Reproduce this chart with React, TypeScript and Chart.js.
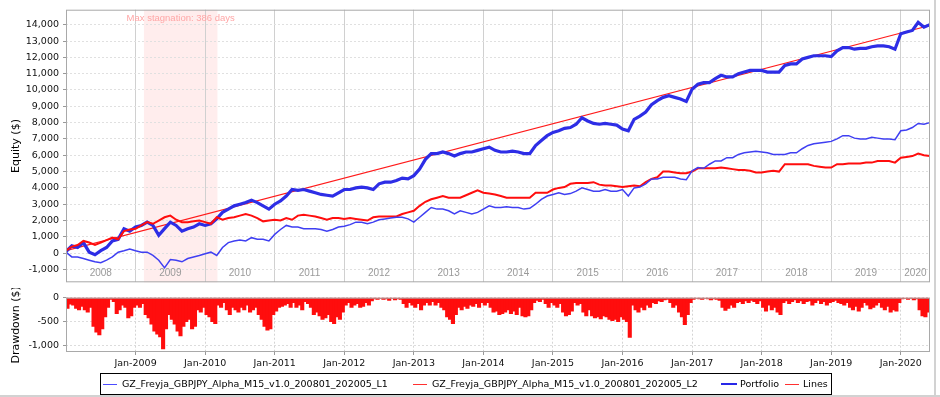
import React, { useEffect, useRef } from 'react';
import { Chart, registerables } from 'chart.js';

Chart.register(...registerables);

// ---------- data ----------
const FIRST_YEAR = 2008;
const LAST_X = 2020.42;
const yearTicks = [2009, 2010, 2011, 2012, 2013, 2014, 2015, 2016, 2017, 2018, 2019, 2020];
const yearLabels = [2008, 2009, 2010, 2011, 2012, 2013, 2014, 2015, 2016, 2017, 2018, 2019, 2020];
const equityTicks = [-1000, 0, 1000, 2000, 3000, 4000, 5000, 6000, 7000, 8000, 9000, 10000, 11000, 12000, 13000, 14000];
const drawdownTicks = [0, -500, -1000];
const equityRange = [-1786, 14921];
const drawdownRange = [-1143, 0];

const seriesNames = [
  'GZ_Freyja_GBPJPY_Alpha_M15_v1.0_200801_202005_L1',
  'GZ_Freyja_GBPJPY_Alpha_M15_v1.0_200801_202005_L2',
  'Portfolio',
  'Lines',
];

// monthly values, Jan 2008 ... May 2020, plus end of May 2020
const portfolio = [
  100, 450, 350, 650, 60, -100, 150, 350, 750, 850, 1500, 1350,
  1600, 1700, 1900, 1700, 1100, 1500, 1900, 1700, 1350, 1500, 1600, 1800,
  1700, 1800, 2100, 2500, 2700, 2900, 3000, 3100, 3250, 3100, 2900, 2700,
  3000, 3200, 3500, 3900, 3850, 3900, 3800, 3700, 3600, 3550, 3500, 3700,
  3900, 3900, 4000, 4050, 4000, 3900, 4250, 4350, 4350, 4450, 4600, 4550,
  4750, 5150, 5750, 6100, 6100, 6200, 6100, 5950, 6100, 6200, 6200, 6300,
  6400, 6500, 6300, 6200, 6200, 6250, 6200, 6100, 6100, 6600, 6900, 7200,
  7400, 7500, 7650, 7700, 7900, 8300, 8100, 7950, 7900, 7950, 7900, 7850,
  7600, 7500, 8200, 8400, 8650, 9100, 9350, 9550, 9650, 9550, 9450, 9300,
  10050, 10350, 10450, 10450, 10700, 10900, 10800, 10800, 11000, 11100, 11200, 11200,
  11200, 11100, 11100, 11100, 11500, 11600, 11600, 11900, 12000, 12100, 12100, 12100,
  12050, 12400, 12600, 12600, 12500, 12550, 12550, 12650, 12700, 12700, 12650, 12500,
  13450, 13550, 13650, 14150, 13850, 14000,
];
const strategyL1 = [
  60, -230, -230, -330, -430, -530, -590, -430, -230, 60, 150, 250,
  150, 60, 60, -140, -430, -900, -390, -430, -530, -330, -230, -140,
  -40, 60, -140, 350, 650, 750, 800, 750, 950, 850, 850, 750,
  1150, 1450, 1700, 1600, 1600, 1500, 1500, 1500, 1450, 1350, 1450, 1600,
  1650, 1750, 1900, 1900, 1800, 1900, 2050, 2100, 2150, 2200, 2200, 2100,
  1900, 2200, 2500, 2800, 2700, 2700, 2600, 2400, 2600, 2500, 2400, 2500,
  2700, 2900, 2800, 2800, 2850, 2800, 2800, 2700, 2750, 3000, 3300, 3500,
  3600, 3700, 3600, 3650, 3800, 4000, 3900, 3800, 3800, 3900, 3800, 3800,
  3900, 3500, 4000, 4050, 4250, 4550, 4550, 4650, 4650, 4650, 4550, 4500,
  5050, 5250, 5200, 5450, 5650, 5650, 5850, 5850, 6050, 6150, 6200, 6250,
  6200, 6150, 6050, 6050, 6050, 6150, 6150, 6400, 6600, 6700, 6750, 6800,
  6850, 7000, 7200, 7200, 7050, 7000, 7000, 7100, 7050, 7000, 7000, 6950,
  7500, 7550, 7700, 7950, 7900, 8000,
];
const strategyL2 = [
  150, 400, 500, 750, 650, 500, 650, 800, 950, 850, 1350, 1450,
  1500, 1700, 1900, 1800, 2000, 2200, 2300, 2050, 1900, 1900, 1950, 2000,
  1900, 1800, 2200, 2050, 2150, 2200, 2300, 2400, 2300, 2150, 1950, 2000,
  2050, 2000, 2150, 2050, 2300, 2350, 2300, 2250, 2150, 2050, 2150, 2150,
  2100, 2150, 2100, 2050, 2000, 2200, 2250, 2250, 2250, 2250, 2400, 2500,
  2600, 2900, 3150, 3300, 3400, 3500, 3400, 3400, 3400, 3550, 3700, 3850,
  3700, 3650, 3600, 3500, 3400, 3400, 3400, 3400, 3400, 3700, 3700, 3700,
  3900, 4000, 4050, 4250, 4300, 4300, 4300, 4350, 4200, 4150, 4150, 4100,
  4050, 4100, 4150, 4100, 4350, 4550, 4650, 5000, 5000, 4950, 4900, 4900,
  5000, 5200, 5200, 5200, 5200, 5250, 5200, 5150, 5100, 5100, 5050, 4950,
  4950, 5000, 5050, 5000, 5450, 5450, 5450, 5450, 5450, 5350, 5300, 5250,
  5250, 5450, 5450, 5500, 5500, 5500, 5550, 5550, 5650, 5650, 5650, 5550,
  5850, 5900, 5950, 6100, 6000, 5950,
];
const trendLine = [
  { x: 2008.0, y: 150 },
  { x: 2020.4167, y: 13950 },
];

// semi-monthly drawdown of the portfolio, Jan 2008 ... May 2020
const drawdown = [
  -220, -130, -150, -220, -250, -180, -250, -300, -200, -600, -720, -780, -650, -400, -200, -30, -80, -330, -250, -150, -200, -420, -380, -200,
  -150, -200, -120, -350, -420, -550, -700, -760, -820, -1070, -650, -350, -450, -550, -700, -800, -600, -500, -450, -650, -600, -250, -300, -200,
  -350, -400, -500, -540, -150, -200, -100, -250, -350, -200, -250, -300, -200, -250, -150, -300, -250, -200, -350, -450, -600, -680, -650, -350,
  -280, -200, -180, -150, -120, -200, -100, -200, -150, -250, -80, -120, -200, -350, -300, -380, -450, -420, -350, -500, -540, -400, -450, -300,
  -150, -100, -200, -150, -120, -200, -180, -100, -150, -60, -20, -30, -10, -30, -20, -50, -10, -40, -20, -30, -120, -200, -100, -150,
  -200, -120, -250, -150, -100, -150, -80, -150, -100, -200, -250, -400, -450, -540, -350, -200, -250, -180, -220, -150, -180, -120, -200, -100,
  -150, -100, -200, -300, -280, -350, -330, -300, -250, -330, -280, -350, -200, -380, -400, -380, -250, -100, -50, -80, -30, -120, -200, -100,
  -150, -200, -120, -300, -380, -350, -280, -100, -150, -120, -300, -380, -250, -380, -420, -400, -440, -380, -400, -450, -480, -450, -500, -400,
  -450, -500, -830, -150, -250, -300, -200, -250, -150, -200, -100, -120, -60, -80, -40, -30, -100, -200, -150, -300, -400, -560, -350, -100,
  -30, -10, -20, -30, -10, -20, -40, -20, -30, -50, -200, -260, -220, -150, -200, -100, -80, -120, -60, -100, -50, -80, -120, -60,
  -200, -280, -150, -250, -200, -300, -350, -100, -60, -120, -80, -40, -100, -60, -120, -80, -60, -150, -100, -50, -120, -80, -150, -100,
  -80, -50, -100, -120, -150, -100, -200, -250, -180, -280, -200, -100, -150, -230, -200, -150, -100, -200, -250, -180, -300, -250, -280, -100,
  -20, -10, -30, -10, -40, -20, -250, -380, -400, -300,
];

const stagnation = { start: 2009.12, end: 2010.177, label: 'Max stagnation: 386 days' };

// ---------- helpers ----------
const monthPoints = (arr: number[]) => arr.map((y, i) => ({ x: FIRST_YEAR + i / 12, y }));
const halfMonthPoints = (arr: number[]) => arr.map((y, i) => ({ x: FIRST_YEAR + (i + 0.5) / 24, y }));
const fmt = (v: number) => Number(v).toLocaleString('en-US');
const AXIS_FONT = '"DejaVu Sans", sans-serif';

const plotBorder = {
  id: 'plotBorder',
  afterDraw(chart: any) {
    const { ctx, chartArea: a } = chart;
    ctx.save();
    ctx.strokeStyle = '#a9a9a9';
    ctx.lineWidth = 1;
    ctx.strokeRect(a.left + 0.5, a.top + 0.5, a.right - a.left - 1, a.bottom - a.top - 1);
    ctx.restore();
  },
};

const equityDecor = {
  id: 'equityDecor',
  beforeDraw(chart: any) {
    const { ctx, chartArea: a, scales } = chart;
    const x = scales.x;
    const x0 = x.getPixelForValue(stagnation.start);
    const x1 = x.getPixelForValue(stagnation.end);
    ctx.save();
    ctx.fillStyle = '#ffeded';
    ctx.fillRect(x0, a.top, x1 - x0, a.bottom - a.top);
    ctx.restore();
  },
  afterDraw(chart: any) {
    const { ctx, chartArea: a, scales } = chart;
    const x = scales.x;
    const x0 = x.getPixelForValue(stagnation.start);
    const x1 = x.getPixelForValue(stagnation.end);
    ctx.save();
    ctx.textAlign = 'center';
    ctx.textBaseline = 'middle';
    ctx.font = '9.5px "Liberation Sans", Arial, sans-serif';
    ctx.fillStyle = '#ffa6a6';
    ctx.fillText(stagnation.label, (x0 + x1) / 2, a.top + 9);
    ctx.fillStyle = '#9a9a9a';
    ctx.font = '10px "Liberation Sans", Arial, sans-serif';
    yearLabels.forEach((yr) => {
      const l = x.getPixelForValue(Math.max(yr, x.min));
      const r = x.getPixelForValue(Math.min(yr + 1, x.max));
      ctx.fillText(String(yr), (l + r) / 2, a.bottom - 9);
    });
    ctx.restore();
  },
};

const legendItems = [
  { label: seriesNames[0], color: '#4c4cff', h: 1, lineX: 103, lineW: 14, textX: 122 },
  { label: seriesNames[1], color: '#ff3030', h: 1, lineX: 413, lineW: 14, textX: 432 },
  { label: seriesNames[2], color: '#2828e8', h: 2, lineX: 721, lineW: 16, textX: 740 },
  { label: seriesNames[3], color: '#ff3030', h: 1, lineX: 785, lineW: 14, textX: 803 },
];

export default function App() {
  const topRef = useRef<HTMLCanvasElement | null>(null);
  const botRef = useRef<HTMLCanvasElement | null>(null);

  useEffect(() => {
    Chart.defaults.font.family = AXIS_FONT;
    Chart.defaults.font.size = 9.5;
    Chart.defaults.color = '#111';

    const top = new Chart(topRef.current as HTMLCanvasElement, {
      type: 'line',
      data: {
        datasets: [
          { label: seriesNames[0], data: monthPoints(strategyL1), borderColor: '#3f3ff2', borderWidth: 1.5, pointRadius: 0, tension: 0 },
          { label: seriesNames[1], data: monthPoints(strategyL2), borderColor: '#ff0d0d', borderWidth: 2, pointRadius: 0, tension: 0 },
          { label: seriesNames[2], data: monthPoints(portfolio), borderColor: '#2d2de6', borderWidth: 3.2, pointRadius: 0, tension: 0 },
          { label: seriesNames[3], data: trendLine, borderColor: '#ff1a1a', borderWidth: 1.2, pointRadius: 0, tension: 0 },
        ],
      },
      options: {
        animation: false,
        responsive: false,
        maintainAspectRatio: false,
        layout: { padding: { left: 0, top: 5, right: 10, bottom: 2 } },
        plugins: { legend: { display: false }, tooltip: { enabled: false } },
        scales: {
          x: {
            type: 'linear',
            min: FIRST_YEAR,
            max: LAST_X,
            afterBuildTicks: (s: any) => { s.ticks = yearTicks.map((v) => ({ value: v })); },
            afterFit: (s: any) => { s.height = 0; },
            ticks: { display: false },
            grid: { color: '#d0d0d0', drawTicks: false, lineWidth: 1 },
            border: { display: false },
          },
          y: {
            min: equityRange[0],
            max: equityRange[1],
            afterBuildTicks: (s: any) => { s.ticks = equityTicks.map((v) => ({ value: v })); },
            afterFit: (s: any) => { s.width = 66; },
            ticks: { callback: (v: any) => fmt(v), padding: 4, color: '#111', font: { size: 9.5 } },
            grid: { color: '#e0e0e0', tickLength: 3, tickColor: '#999' },
            border: { display: false, dash: [2, 2] },
            title: { display: true, text: 'Equity ($)', color: '#000', font: { size: 11 }, padding: { top: 10, bottom: 0 } },
          },
        },
      } as any,
      plugins: [equityDecor, plotBorder],
    });

    const bot = new Chart(botRef.current as HTMLCanvasElement, {
      type: 'bar',
      data: {
        datasets: [
          {
            label: 'Drawdown',
            data: halfMonthPoints(drawdown) as any,
            backgroundColor: '#ff0d0d',
            borderWidth: 0,
            barPercentage: 1,
            categoryPercentage: 1,
            inflateAmount: 0.6,
          } as any,
        ],
      },
      options: {
        animation: false,
        responsive: false,
        maintainAspectRatio: false,
        layout: { padding: { left: 0, top: 8, right: 10, bottom: 0 } },
        plugins: { legend: { display: false }, tooltip: { enabled: false } },
        scales: {
          x: {
            type: 'linear',
            min: FIRST_YEAR,
            max: LAST_X,
            offset: false,
            afterBuildTicks: (s: any) => { s.ticks = yearTicks.map((v) => ({ value: v })); },
            afterFit: (s: any) => { s.height = 20; },
            ticks: { callback: (v: any) => 'Jan-' + v, padding: 3, color: '#111', maxRotation: 0, autoSkip: false, font: { size: 9.5 } },
            grid: { color: '#d4d4d4', offset: false, tickLength: 3, tickColor: '#999' },
            border: { display: false, dash: [2, 2] },
          },
          y: {
            min: drawdownRange[0],
            max: drawdownRange[1],
            afterBuildTicks: (s: any) => { s.ticks = drawdownTicks.map((v) => ({ value: v })); },
            afterFit: (s: any) => { s.width = 66; },
            ticks: { callback: (v: any) => fmt(v), padding: 4, color: '#111', font: { size: 9.5 } },
            grid: { color: '#dcdcdc', tickLength: 3, tickColor: '#999' },
            border: { display: false, dash: [2, 2] },
            title: { display: true, text: 'Drawdown ($)', color: '#000', font: { size: 11 }, padding: { top: 10, bottom: 0 } },
          },
        },
      } as any,
      plugins: [plotBorder],
    });

    return () => {
      top.destroy();
      bot.destroy();
    };
  }, []);

  return (
    <div style={{ position: 'absolute', left: 0, top: 0, width: 940, height: 397, background: '#fff', overflow: 'hidden' }}>
      <canvas ref={topRef} width={940} height={292} style={{ position: 'absolute', left: 0, top: 0, width: 940, height: 292 }} />
      <canvas ref={botRef} width={940} height={84} style={{ position: 'absolute', left: 0, top: 288, width: 940, height: 84 }} />
      <div style={{ position: 'absolute', left: 100, top: 373, width: 732, height: 22, boxSizing: 'border-box', border: '1px solid #000' }} />
      {legendItems.map((it) => (
        <React.Fragment key={it.label}>
          <div style={{ position: 'absolute', left: it.lineX, top: 384 - it.h / 2, width: it.lineW, height: it.h, background: it.color }} />
          <div style={{ position: 'absolute', left: it.textX, top: 378, height: 12, lineHeight: '12px', font: '9.5px "DejaVu Sans", sans-serif', color: '#000', whiteSpace: 'nowrap' }}>
            {it.label}
          </div>
        </React.Fragment>
      ))}
      <div style={{ position: 'absolute', left: 934, top: 0, width: 2, height: 395, background: '#d2d2d2' }} />
      <div style={{ position: 'absolute', left: 0, top: 395, width: 940, height: 2, background: '#d2d2d2' }} />
    </div>
  );
}
